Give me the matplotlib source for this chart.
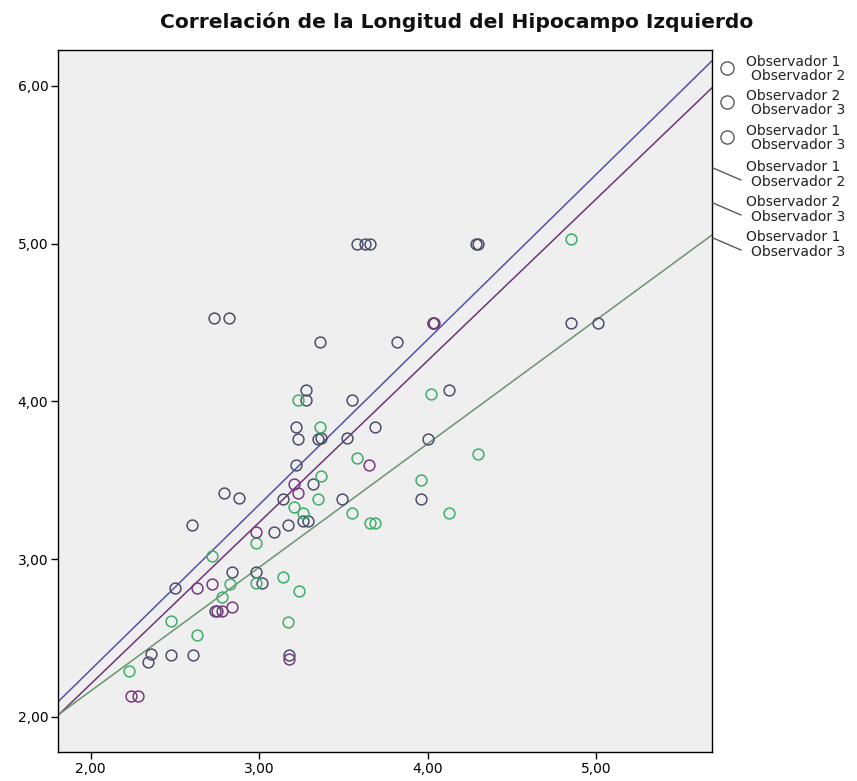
import numpy as np
import matplotlib
matplotlib.use("Agg")
import matplotlib.pyplot as plt
from matplotlib.lines import Line2D
from matplotlib.ticker import FuncFormatter

# ---------------- data ----------------
title = "Correlación de la Longitud del Hipocampo Izquierdo"
pair_labels = [("Observador 1", "Observador 2"),
               ("Observador 2", "Observador 3"),
               ("Observador 1", "Observador 3")]

# Observador 1 vs Observador 2 (dark points)
a_x = [3.58, 3.63, 3.66, 4.29, 4.30, 2.73, 2.82, 3.36, 3.82, 4.03, 4.04, 4.85, 5.01,
       3.28, 3.28, 3.55, 3.22, 3.23, 3.37, 3.35, 3.52, 3.69, 4.00, 4.13, 3.22, 3.32,
       3.14, 2.79, 2.88, 3.49, 3.96, 3.26, 3.29, 3.17, 3.09, 2.60, 2.50, 2.84, 2.98,
       3.02, 2.74, 2.34, 2.36, 2.48, 2.61, 3.18]
a_y = [5.00, 5.00, 5.00, 5.00, 5.00, 4.53, 4.53, 4.38, 4.38, 4.50, 4.50, 4.50, 4.50,
       4.07, 4.01, 4.01, 3.84, 3.76, 3.77, 3.76, 3.77, 3.84, 3.76, 4.07, 3.60, 3.48,
       3.38, 3.42, 3.39, 3.38, 3.38, 3.24, 3.24, 3.22, 3.17, 3.22, 2.82, 2.92, 2.92,
       2.85, 2.67, 2.35, 2.40, 2.39, 2.39, 2.39]

# Observador 2 vs Observador 3 (green points)
b_x = [3.23, 3.36, 4.02, 3.58, 3.37, 3.35, 3.21, 3.26, 3.55, 2.98, 2.72, 3.96, 4.30,
       4.13, 3.66, 3.69, 2.98, 2.83, 2.78, 3.14, 3.24, 3.17, 2.48, 2.63, 2.23, 4.85]
b_y = [4.01, 3.84, 4.05, 3.64, 3.53, 3.38, 3.33, 3.29, 3.29, 3.10, 3.02, 3.50, 3.67,
       3.29, 3.23, 3.23, 2.85, 2.84, 2.76, 2.89, 2.80, 2.60, 2.61, 2.52, 2.29, 5.03]

# Observador 1 vs Observador 3 (purple points)
c_x = [3.65, 3.21, 3.23, 2.98, 2.72, 2.63, 2.84, 2.75, 2.78, 2.24, 2.28, 3.18, 4.03]
c_y = [3.60, 3.48, 3.42, 3.17, 2.84, 2.82, 2.70, 2.67, 2.67, 2.13, 2.13, 2.37, 4.50]

# fitted lines (intercept, slope)
fit_intercepts = [0.204, 0.158, 0.596]
fit_slopes = [1.047, 1.025, 0.784]

x_ticks = [2.0, 3.0, 4.0, 5.0]
y_ticks = [2.0, 3.0, 4.0, 5.0, 6.0]

# ---------------- styling ----------------
W, H = 857, 781
fig = plt.figure(figsize=(W / 100, H / 100), dpi=100)
fig.patch.set_facecolor("white")
ax = fig.add_axes([58 / W, 1 - 752 / H, (712 - 58) / W, (752 - 50) / H])
ax.set_facecolor("#efefef")

point_colors = ["#4b4f6b", "#3fae6a", "#7a3a80"]
line_colors = ["#5252a8", "#6e3478", "#6a9470"]

xmin, xmax = 1.807, 5.688
ymin, ymax = 1.778, 6.228

for (xs, ys), col in zip([(a_x, a_y), (b_x, b_y), (c_x, c_y)], point_colors):
    ax.plot(xs, ys, linestyle="none", marker="o", markersize=7.8,
            markerfacecolor="none", markeredgecolor=col, markeredgewidth=1.1,
            zorder=3)

xx = np.linspace(xmin, xmax, 50)
for b0, b1, col in zip(fit_intercepts, fit_slopes, line_colors):
    ax.plot(xx, b0 + b1 * xx, color=col, linewidth=1.1, zorder=2)

ax.set_xlim(xmin, xmax)
ax.set_ylim(ymin, ymax)
ax.set_xticks(x_ticks)
ax.set_yticks(y_ticks)
fmt = FuncFormatter(lambda v, p: f"{v:.2f}".replace(".", ","))
ax.xaxis.set_major_formatter(fmt)
ax.yaxis.set_major_formatter(fmt)
ax.tick_params(axis="both", direction="out", length=5, width=1,
               labelsize=10, colors="black", pad=2)
for s in ax.spines.values():
    s.set_color("black")
    s.set_linewidth(1.0)

fig.text(457 / W, 1 - 22 / H, title, ha="center", va="center",
         fontsize=14.6, fontweight="bold", color="#111111")

# ---------------- legend (drawn manually, SPSS style) ----------------
legend_col = "#5a5a5a"
def fx(px):
    return px / W
def fy(py):
    return 1 - py / H

fs = 10.0
marker_rows = [68, 102, 137]
for (l1, l2), cy in zip(pair_labels, marker_rows):
    fig.add_artist(Line2D([fx(727)], [fy(cy)], marker="o", markersize=9.5,
                          markerfacecolor="none", markeredgecolor=legend_col,
                          markeredgewidth=1.0, transform=fig.transFigure))
    fig.text(fx(746), fy(cy - 6), l1, ha="left", va="center", fontsize=fs, color="#222222")
    fig.text(fx(751), fy(cy + 8), l2, ha="left", va="center", fontsize=fs, color="#222222")

line_rows = [168, 203, 238]
for (l1, l2), cy in zip(pair_labels, line_rows):
    fig.add_artist(Line2D([fx(713), fx(741)], [fy(cy), fy(cy + 12)],
                          color=legend_col, linewidth=1.0, transform=fig.transFigure))
    fig.text(fx(746), fy(cy - 1), l1, ha="left", va="center", fontsize=fs, color="#222222")
    fig.text(fx(751), fy(cy + 14), l2, ha="left", va="center", fontsize=fs, color="#222222")

fig.savefig("out.png", dpi=100, facecolor="white")
